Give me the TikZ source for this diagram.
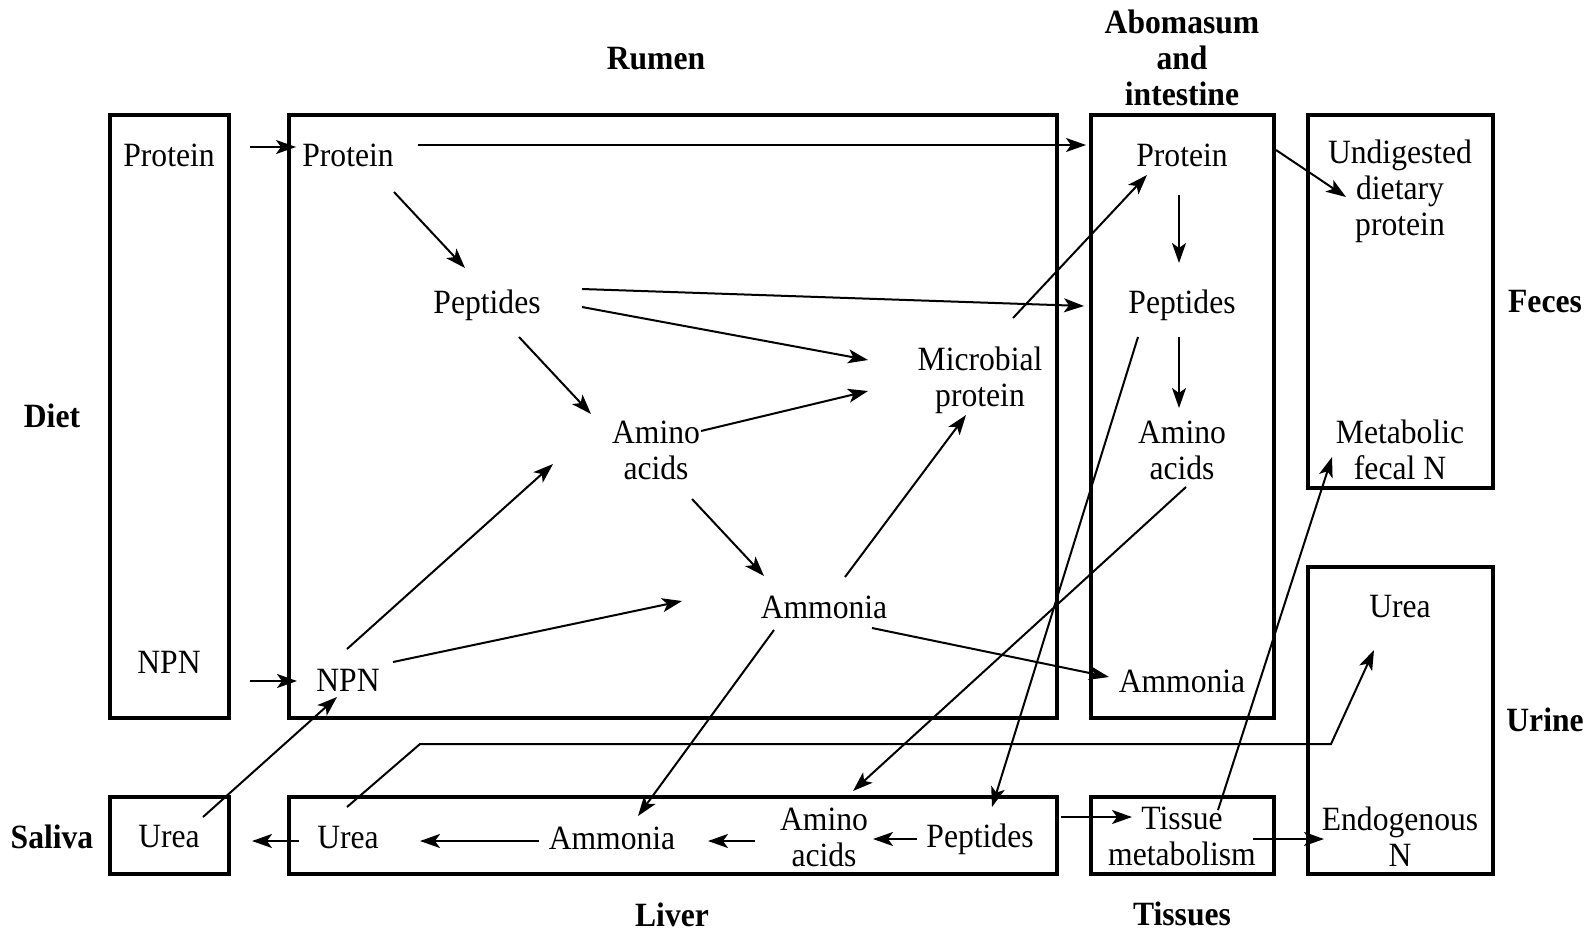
\documentclass[tikz,border=0pt]{standalone}
\usepackage{fontspec}
\setmainfont{Liberation Serif}[FakeStretch=0.93]
\usetikzlibrary{arrows.meta,calc,fit}
\begin{document}
\begin{tikzpicture}[x=0.5pt,y=-0.5pt,
  every node/.style={font=\fontsize{17pt}{18pt}\selectfont, inner sep=0pt, outer sep=0pt},
  lbl/.style={align=center},
  head/.style={align=center, font=\fontsize{17pt}{18pt}\selectfont\bfseries},
  box/.style={draw, line width=2pt},
  arr/.style={line width=1pt, -{Stealth[length=10pt,width=7pt,inset=2.5pt]}}]

\fill[white] (0,0) rectangle (1594,932);
\useasboundingbox (0,0) rectangle (1594,932);

% compartments
\node[box, fit={(110,115) (229,718)}] (diet) {};
\node[box, fit={(289,115) (1057,718)}] (rumen) {};
\node[box, fit={(1091,115) (1274,718)}] (abom) {};
\node[box, fit={(1308,115) (1493,488)}] (feces) {};
\node[box, fit={(1308,567) (1493,874)}] (urine) {};
\node[box, fit={(110,797) (229,874)}] (saliva) {};
\node[box, fit={(289,797) (1057,874)}] (liver) {};
\node[box, fit={(1091,797) (1274,874)}] (tissues) {};

% compartment headings
\node[head] (hRumen) at (656,59) {Rumen};
\node[head] (hAbom) at (1182,58) {Abomasum\\and\\intestine};
\node[head] (hFeces) at (1545,302) {Feces};
\node[head] (hDiet) at (52,416) {Diet};
\node[head] (hUrine) at (1545,720) {Urine};
\node[head] (hSaliva) at (52,837) {Saliva};
\node[head] (hLiver) at (672,915) {Liver};
\node[head] (hTissues) at (1182,914) {Tissues};

% nitrogen pools
\node[lbl] (dP) at (169,155) {Protein};
\node[lbl] (dN) at (169,662) {NPN};
\node[lbl] (rP) at (348,155) {Protein};
\node[lbl] (rPep) at (487,305) {Peptides};
\node[lbl] (rAA) at (656,450) {Amino\\acids};
\node[lbl] (rMic) at (980,380) {Microbial\\protein};
\node[lbl] (rAm) at (824,607) {Ammonia};
\node[lbl] (rN) at (348,680) {NPN};
\node[lbl] (aP) at (1182,155) {Protein};
\node[lbl] (aPep) at (1182,305) {Peptides};
\node[lbl] (aAA) at (1182,450) {Amino\\acids};
\node[lbl] (aAm) at (1182,681) {Ammonia};
\node[lbl] (fU) at (1400,191) {Undigested\\dietary\\protein};
\node[lbl] (fM) at (1400,450) {Metabolic\\fecal N};
\node[lbl] (uU) at (1400,607) {Urea};
\node[lbl] (uE) at (1400,837) {Endogenous\\N};
\node[lbl] (sU) at (169,837) {Urea};
\node[lbl] (lU) at (348,838) {Urea};
\node[lbl] (lAm) at (612,838) {Ammonia};
\node[lbl] (lAA) at (824,837) {Amino\\acids};
\node[lbl] (lPep) at (980,839) {Peptides};
\node[lbl] (tT) at (1182,836) {Tissue\\metabolism};

% bends of the urea-to-urine route
\coordinate (bendA) at (420,744);
\coordinate (bendB) at (1331,744);

% flows
\draw[arr] ($(dP)+(81,-8)$) -- ($(rP)+(-52,-8)$);
\draw[arr] ($(rP)+(70,-10)$) -- ($(aP)+(-96,-10)$);
\draw[arr] ($(rP)+(46,37)$) -- ($(rPep)+(-22,-37)$);
\draw[arr] ($(rPep)+(95,-16)$) -- ($(aPep)+(-98,1)$);
\draw[arr] ($(rPep)+(95,2)$) -- ($(rMic)+(-112,-20)$);
\draw[arr] ($(rPep)+(32,32)$) -- ($(rAA)+(-65,-36)$);
\draw[arr] ($(rAA)+(45,-19)$) -- ($(rMic)+(-112,11)$);
\draw[arr] ($(rN)+(-1,-31)$) -- ($(rAA)+(-103,14)$);
\draw[arr] ($(rN)+(45,-18)$) -- ($(rAm)+(-142,-6)$);
\draw[arr] ($(rAA)+(36,49)$) -- ($(rAm)+(-60,-31)$);
\draw[arr] ($(dN)+(81,19)$) -- ($(rN)+(-51,1)$);
\draw[arr] ($(sU)+(34,-20)$) -- ($(rN)+(-11,17)$);
\draw[arr] ($(lU)+(-49,3)$) -- ($(sU)+(83,4)$);
\draw[arr] ($(lAm)+(-73,3)$) -- ($(lU)+(72,3)$);
\draw[arr] ($(lAA)+(-69,4)$) -- ($(lAm)+(96,3)$);
\draw[arr] ($(rAm)+(-50,23)$) -- ($(lAm)+(26,-22)$);
\draw[arr] ($(lU)+(-1,-31)$) -- (bendA) -- (bendB) -- ($(uU)+(-26,43)$);
\draw[arr] ($(rAm)+(48,21)$) -- ($(aAm)+(-73,-4)$);
\draw[arr] ($(rMic)+(33,-62)$) -- ($(aP)+(-35,20)$);
\draw[arr] ($(rAm)+(21,-30)$) -- ($(rMic)+(-14,35)$);
\draw[arr] ($(aP)+(-3,40)$) -- ($(aPep)+(-3,-42)$);
\draw[arr] ($(aPep)+(-3,32)$) -- ($(aAA)+(-3,-42)$);
\draw[arr] ($(aP)+(94,-5)$) -- ($(fU)+(-54,6)$);
\draw[arr] ($(aPep)+(-44,32)$) -- ($(lPep)+(12,-32)$);
\draw[arr] ($(aAA)+(4,37)$) -- ($(lAA)+(29,-46)$);
\draw[arr] ($(lPep)+(-63,0)$) -- ($(lAA)+(49,2)$);
\draw[arr] ($(liver.east)+(4,-18.5)$) -- ($(tT)+(-50,-19)$);
\draw[arr] ($(tT)+(71,3)$) -- ($(uE)+(-76,2)$);
\draw[arr] ($(tT)+(36,-26)$) -- ($(fM)+(-68,7)$);

\end{tikzpicture}
\end{document}
